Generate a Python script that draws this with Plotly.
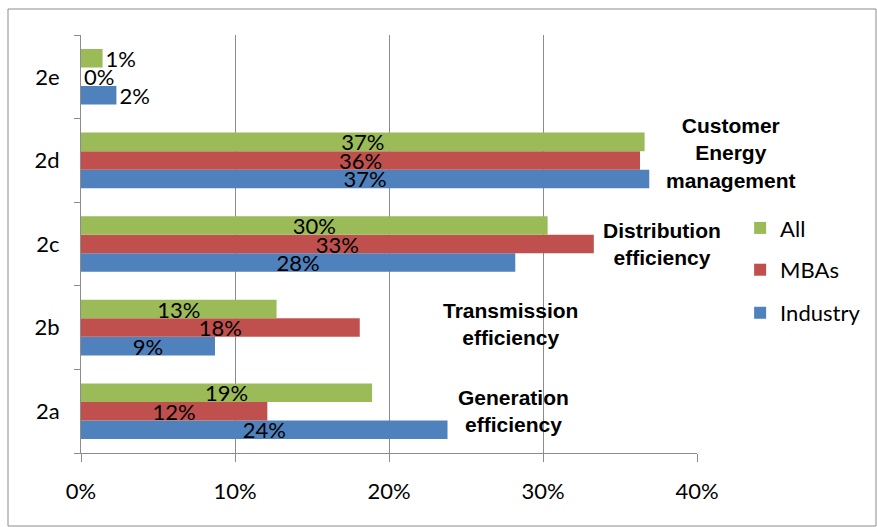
import plotly.graph_objects as go

categories = ["2a", "2b", "2c", "2d", "2e"]
industry = [0.238, 0.087, 0.282, 0.369, 0.023]
mbas = [0.121, 0.181, 0.333, 0.363, 0.0]
all_ = [0.189, 0.127, 0.303, 0.366, 0.014]
x_ticks = [0, 0.1, 0.2, 0.3, 0.4]
x_tick_labels = ["0%", "10%", "20%", "30%", "40%"]
notes = ["Generation<br>efficiency", "Transmission<br>efficiency",
         "Distribution<br>efficiency", "Customer<br>Energy<br>management"]
note_x = [0.281, 0.279, 0.377, 0.422]
note_cat = ["2a", "2b", "2c", "2d"]
note_shift = [0, 4, 0, 7]

FONT = "Lato, Calibri, Carlito, sans-serif"
GRID = "#8c8c8c"
XMAX = 0.4

series = [("Industry", industry, "#4F81BD", "legend3", 0.335),
          ("MBAs", mbas, "#C0504D", "legend2", 0.438),
          ("All", all_, "#9BBB59", "legend", 0.538)]

fig = go.Figure()
legends = {}
for name, vals, col, leg, ly in series:
    fig.add_trace(go.Bar(
        y=categories, x=vals, name=name, orientation="h", legend=leg,
        marker=dict(color=col, line=dict(width=0)),
        text=[f"{round(v*100):.0f}%" for v in vals],
        textposition=["inside" if v > 0.05 else "outside" for v in vals],
        insidetextanchor="middle", constraintext="none",
        textfont=dict(family=FONT, size=22, color="black"),
        cliponaxis=False,
    ))
    legends[leg] = dict(x=1.07, y=ly, xanchor="left", yanchor="middle",
                        font=dict(family=FONT, size=22, color="black"),
                        bgcolor="rgba(0,0,0,0)", itemwidth=30)

for txt, xv, cat, sh in zip(notes, note_x, note_cat, note_shift):
    fig.add_annotation(x=xv / XMAX, y=cat, text=f"<b>{txt}</b>", showarrow=False,
                       xref="paper", yref="y", yshift=sh, xanchor="center", yanchor="middle",
                       font=dict(family="Liberation Sans, Arial, sans-serif", size=21, color="black"),
                       align="center")

fig.update_layout(
    width=877, height=527,
    margin=dict(l=81, r=180, t=35, b=74, autoexpand=False),
    paper_bgcolor="white", plot_bgcolor="white",
    barmode="group", bargap=0.335, bargroupgap=0,
    showlegend=True,
    **legends,
    xaxis=dict(range=[0, XMAX], tickvals=x_ticks, ticktext=x_tick_labels,
               showgrid=True, gridcolor=GRID, gridwidth=1,
               showline=True, linecolor=GRID, linewidth=1,
               ticks="outside", ticklen=8, tickcolor=GRID,
               ticklabelstandoff=11, zeroline=False, automargin=False,
               tickfont=dict(family=FONT, size=22, color="black")),
    yaxis=dict(categoryorder="array", categoryarray=categories,
               showline=True, linecolor=GRID, linewidth=1,
               ticks="outside", ticklen=6, tickcolor=GRID, tickson="boundaries",
               ticklabelstandoff=16, showgrid=False, automargin=False,
               tickfont=dict(family=FONT, size=22, color="black")),
    shapes=[dict(type="rect", xref="paper", yref="paper",
                 x0=(8 - 81) / 616, x1=(876 - 81) / 616,
                 y0=(453 - 526) / 418, y1=(453 - 9) / 418,
                 line=dict(color=GRID, width=1), fillcolor="rgba(0,0,0,0)", layer="below")],
)

fig.write_html("out.html", config={"displayModeBar": False},
               post_script="document.body.style.margin='0';document.body.style.overflow='hidden';")
